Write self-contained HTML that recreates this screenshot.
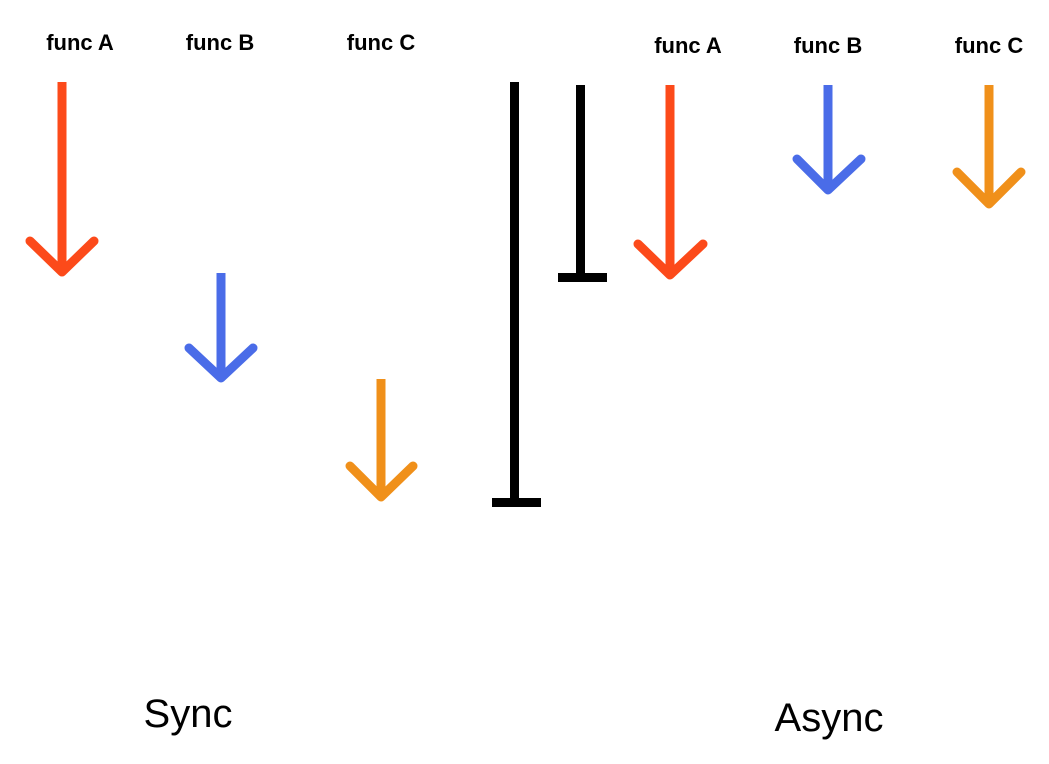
<!DOCTYPE html>
<html><head><meta charset="utf-8"><style>
html,body{margin:0;padding:0;background:#fff;width:1049px;height:764px;overflow:hidden}
svg{display:block}
text{font-family:"Liberation Sans","DejaVu Sans",sans-serif;fill:#000}
</style></head><body>
<svg width="1049" height="764" viewBox="0 0 1049 764">
<g font-size="22" font-weight="bold" text-anchor="middle">
<text x="80" y="50">func A</text>
<text x="220" y="50">func B</text>
<text x="381" y="50">func C</text>
<text x="688" y="53">func A</text>
<text x="828" y="53">func B</text>
<text x="989" y="53">func C</text>
</g>
<g fill="none" stroke-width="9" stroke-linecap="round" stroke-linejoin="round">
<g stroke="#FC4A1A">
<line x1="62" y1="82" x2="62" y2="270" stroke-linecap="butt"/>
<polyline points="30,241 62,272 94,241"/>
<line x1="670" y1="85" x2="670" y2="273" stroke-linecap="butt"/>
<polyline points="638,244 670,275 703,244"/>
</g>
<g stroke="#4A6CE8">
<line x1="221" y1="273" x2="221" y2="376" stroke-linecap="butt"/>
<polyline points="189,348 221,378 253,348"/>
<line x1="828" y1="85" x2="828" y2="188" stroke-linecap="butt"/>
<polyline points="797,159 828,190 861,159"/>
</g>
<g stroke="#F0901A">
<line x1="381" y1="379" x2="381" y2="495" stroke-linecap="butt"/>
<polyline points="350,466 381,497 413,466"/>
<line x1="989" y1="85" x2="989" y2="202" stroke-linecap="butt"/>
<polyline points="957,172 989,204 1021,172"/>
</g>
</g>
<g fill="#000">
<rect x="510" y="82" width="9" height="424"/>
<rect x="492" y="498" width="49" height="9"/>
<rect x="576" y="85" width="9" height="196"/>
<rect x="558" y="273" width="49" height="9"/>
</g>
<g font-size="40" text-anchor="middle">
<text x="188" y="727">Sync</text>
<text x="829" y="731">Async</text>
</g>
</svg>
</body></html>
